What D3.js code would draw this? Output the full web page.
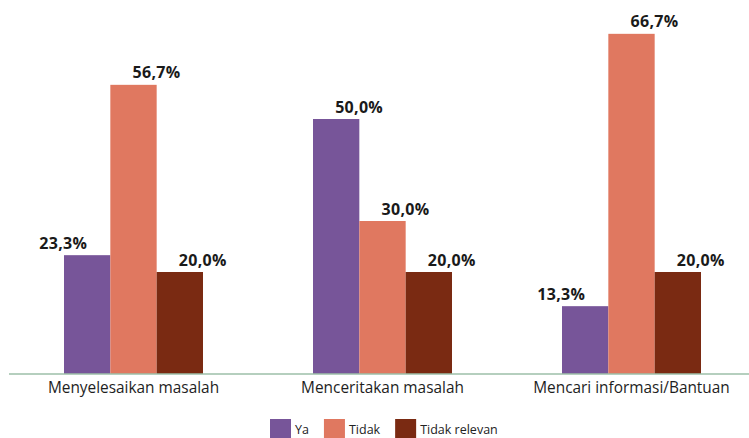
<!DOCTYPE html>
<html>
<head>
<meta charset="utf-8">
<script src="https://cdn.jsdelivr.net/npm/d3@7"></script>
<style>
  html, body { margin: 0; padding: 0; background: #ffffff; }
  svg { display: block; }
</style>
</head>
<body>
<svg id="chart" width="749" height="438"></svg>
<script>
const categories = ["Menyelesaikan masalah", "Menceritakan masalah", "Mencari informasi/Bantuan"];
const seriesNames = ["Ya", "Tidak", "Tidak relevan"];
const ya = [23.3, 50.0, 13.3];
const tidak = [56.7, 30.0, 66.7];
const tidakRelevan = [20.0, 20.0, 20.0];
const seriesValues = [ya, tidak, tidakRelevan];
const colors = ["#775599", "#E07860", "#7A2A12"];

const svg = d3.select("#chart");
const baseY = 374;

const x0 = d3.scaleBand().domain(categories).range([9, 756]).padding(0);
const x1 = d3.scaleBand().domain(seriesNames).range([0, x0.bandwidth()]).paddingInner(0).paddingOuter(1.187);
const y = d3.scaleLinear().domain([0, 70]).range([baseY, 17]);
const color = d3.scaleOrdinal().domain(seriesNames).range(colors);

const fmt = v => d3.format(".1f")(v).replace(".", ",") + "%";

const data = [];
categories.forEach((c, ci) => {
  seriesNames.forEach((s, si) => {
    const next = si < seriesNames.length - 1 ? seriesValues[si + 1][ci] : -Infinity;
    data.push({ cat: c, series: s, si, value: seriesValues[si][ci], flip: next > seriesValues[si][ci] && si === 0 });
  });
});

// bars
svg.append("g").selectAll("rect").data(data).join("rect")
  .attr("x", d => x0(d.cat) + x1(d.series))
  .attr("y", d => y(d.value))
  .attr("width", x1.bandwidth())
  .attr("height", d => baseY - y(d.value))
  .attr("fill", d => color(d.series));

// value labels
svg.append("g").selectAll("text").data(data).join("text")
  .attr("x", d => x0(d.cat) + x1(d.series) + x1.bandwidth() / 2 + (d.flip ? 0 : -1))
  .attr("y", d => y(d.value) - 6.5)
  .attr("text-anchor", d => d.flip ? "end" : "start")
  .attr("font-family", "'Open Sans', sans-serif")
  .attr("font-weight", "bold")
  .attr("font-size", 16)
  .attr("letter-spacing", 0.3)
  .attr("fill", "#1a1a1a")
  .text(d => fmt(d.value));

// axis
const xAxis = d3.axisBottom(x0).tickSize(0).tickPadding(0);
const axisG = svg.append("g").attr("transform", `translate(0,${baseY})`).call(xAxis);
axisG.select(".domain")
  .attr("d", `M9,0H749`)
  .attr("stroke", "#9DBFA9")
  .attr("stroke-width", 1.6);
axisG.selectAll(".tick text")
  .attr("y", 19)
  .attr("dy", 0)
  .attr("font-family", "'Open Sans', sans-serif")
  .attr("font-size", 15.4)
  .attr("fill", "#1e1e1e");

// legend
const legend = svg.append("g");
let lx = 270;
seriesNames.forEach((s, i) => {
  const g = legend.append("g");
  g.append("rect").attr("x", lx).attr("y", 419).attr("width", 21).attr("height", 19).attr("fill", color(s));
  const t = g.append("text").attr("x", lx + 25).attr("y", 434)
    .attr("font-family", "'Open Sans', sans-serif").attr("font-size", 12.5).attr("fill", "#222222").text(s);
  lx += 25 + t.node().getComputedTextLength() + 15;
});
</script>
</body>
</html>
